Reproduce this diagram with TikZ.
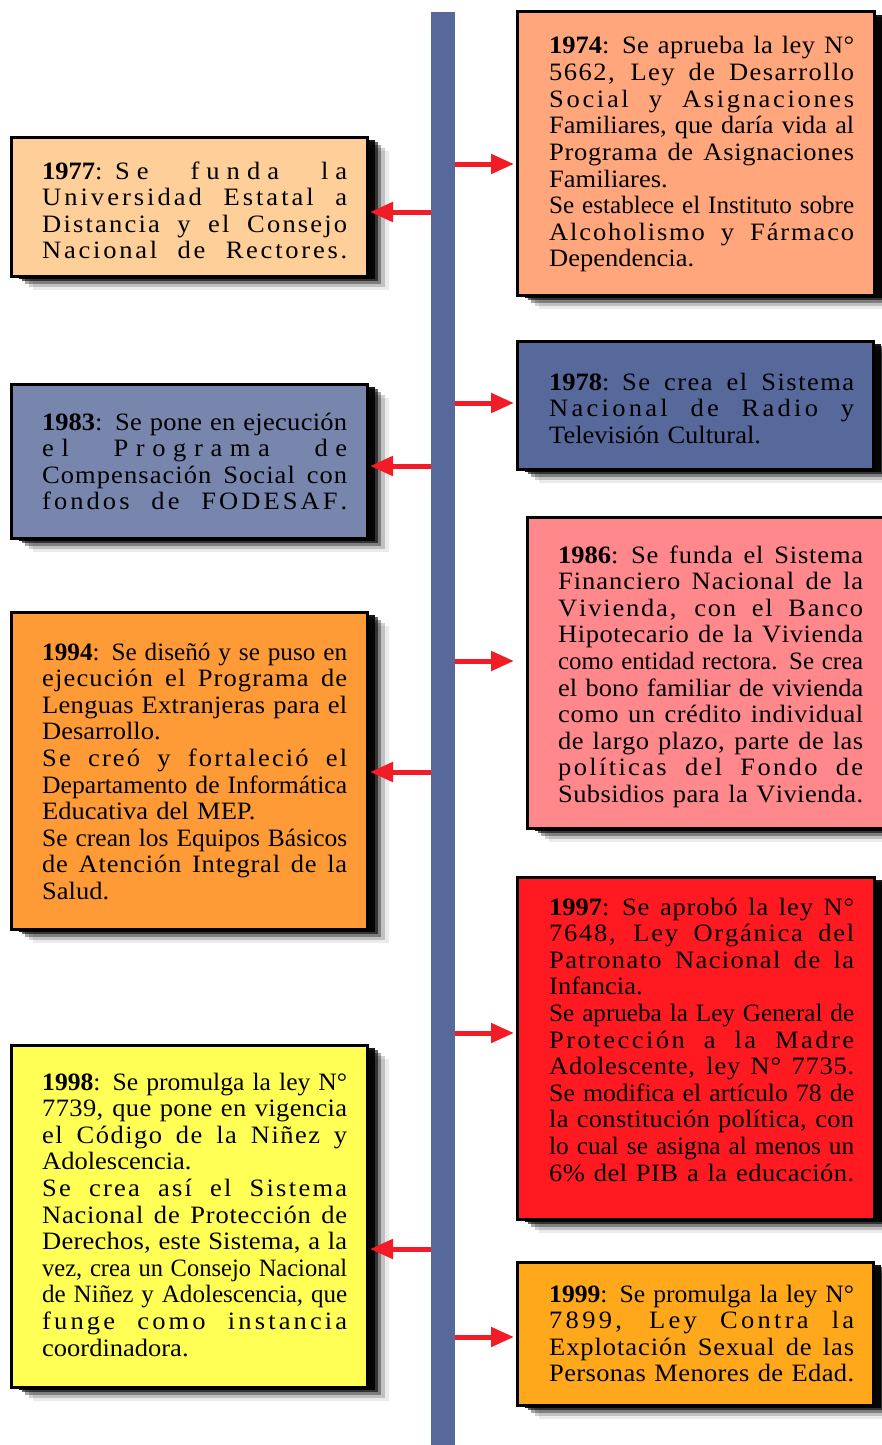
\documentclass[tikz,border=0pt]{standalone}
\usepackage{fontspec}
\setmainfont[FakeStretch=1.06]{Liberation Serif}
\usepackage{graphicx}
\usepackage{tikz}
\usetikzlibrary{arrows.meta, shadows}

\definecolor{azullinea}{HTML}{57689A}
\definecolor{rojoflecha}{HTML}{F21C26}
\definecolor{c1974}{HTML}{FFA67D}
\definecolor{c1977}{HTML}{FECF98}
\definecolor{c1978}{HTML}{57689A}
\definecolor{c1983}{HTML}{7886AE}
\definecolor{c1986}{HTML}{FF888C}
\definecolor{c1994}{HTML}{FF9B37}
\definecolor{c1997}{HTML}{FF1A22}
\definecolor{c1998}{HTML}{FFFF55}
\definecolor{c1999}{HTML}{FFA81C}

% justified lines, spread letter by letter
\newdimen\anchotexto \anchotexto=305pt
\newcount\cc
\cc=33
\loop\XeTeXcharclass\cc=7 \advance\cc by 1 \ifnum\cc<256 \repeat
\XeTeXinterchartoks 7 7 = {\hskip 0pt plus 1fil\relax}
\newcommand\jl[1]{\leavevmode{\setbox0=\hbox{#1}%
  \ifdim\wd0>\anchotexto \resizebox{\anchotexto}{\height}{#1}%
  \else\hbox to \anchotexto{\XeTeXinterchartokenstate=1 \spaceskip=6.6pt plus 5fil minus 2pt\relax #1}\fi}}
\newcommand\anio[1]{{\XeTeXinterchartokenstate=0 \textbf{#1}}}
\newcommand\evfont{\fontsize{25pt}{26.6pt}\selectfont\parindent=0pt}

\tikzset{
	barra/.style={fill=azullinea, anchor=north, minimum width=24pt, minimum height=1440pt, inner sep=0pt, outer sep=0pt},
	sombra/.style={
		general shadow={shadow xshift=22pt, shadow yshift=-14pt, fill=black, opacity=.08},
		general shadow={shadow xshift=18pt, shadow yshift=-11pt, fill=black, opacity=.18},
		general shadow={shadow xshift=14pt, shadow yshift=-8pt, fill=black, opacity=.35},
		general shadow={shadow xshift=11pt, shadow yshift=-5pt, fill=black, opacity=.6},
		general shadow={shadow xshift=8pt, shadow yshift=-3pt, fill=black, opacity=.9}},
	flecha/.style={draw=rojoflecha, line width=5pt, -{Triangle[length=23pt, width=19pt]}, shorten >=3pt},
}

\begin{document}
\begin{tikzpicture}[
		x=1pt, y=-1pt,
		evento/.style={draw, line width=3pt, fill=#1, anchor=north west, inner sep=0pt, outer sep=0pt, sombra},
		texto/.style={anchor=base west, text width=\anchotexto, inner sep=0pt, align=left, font=\evfont}
	]
	\useasboundingbox (0,0) rectangle (881,1445);

	% timeline
	\node[barra] (linea) at (443,12) {};

	% right column
	\node[evento=c1974, minimum width=357pt, minimum height=283pt] (b1974) at (517,12) {};
	\node[texto] (t1974) at (549,54) {\jl{\anio{1974}: Se aprueba la ley N°}\\
		\jl{5662, Ley de Desarrollo}\\
		\jl{Social y Asignaciones}\\
		\jl{Familiares, que daría vida al}\\
		\jl{Programa de Asignaciones}\\
		Familiares.\\
		\jl{Se establece el Instituto sobre}\\
		\jl{Alcoholismo y Fármaco}\\
		Dependencia.};

	\node[evento=c1978, minimum width=356pt, minimum height=128pt] (b1978) at (517,341) {};
	\node[texto] (t1978) at (549,390) {\jl{\anio{1978}: Se crea el Sistema}\\
		\jl{Nacional de Radio y}\\
		Televisión Cultural.};

	\node[evento=c1986, minimum width=370pt, minimum height=311pt] (b1986) at (527,517) {};
	\node[texto] (t1986) at (558,563) {\jl{\anio{1986}: Se funda el Sistema}\\
		\jl{Financiero Nacional de la}\\
		\jl{Vivienda, con el Banco}\\
		\jl{Hipotecario de la Vivienda}\\
		\jl{como entidad rectora. Se crea}\\
		\jl{el bono familiar de vivienda}\\
		\jl{como un crédito individual}\\
		\jl{de largo plazo, parte de las}\\
		\jl{políticas del Fondo de}\\
		\jl{Subsidios para la Vivienda.}};

	\node[evento=c1997, minimum width=357pt, minimum height=342pt] (b1997) at (517,877) {};
	\node[texto] (t1997) at (549,915) {\jl{\anio{1997}: Se aprobó la ley N°}\\
		\jl{7648, Ley Orgánica del}\\
		\jl{Patronato Nacional de la}\\
		Infancia.\\
		\jl{Se aprueba la Ley General de}\\
		\jl{Protección a la Madre}\\
		\jl{Adolescente, ley N° 7735.}\\
		\jl{Se modifica el artículo 78 de}\\
		\jl{la constitución política, con}\\
		\jl{lo cual se asigna al menos un}\\
		\jl{6\% del PIB a la educación.}};

	\node[evento=c1999, minimum width=356pt, minimum height=143pt] (b1999) at (517,1262) {};
	\node[texto] (t1999) at (549,1302) {\jl{\anio{1999}: Se promulga la ley N°}\\
		\jl{7899, Ley Contra la}\\
		\jl{Explotación Sexual de las}\\
		\jl{Personas Menores de Edad.}};

	% left column
	\node[evento=c1977, minimum width=356pt, minimum height=139pt] (b1977) at (11,137) {};
	\node[texto] (t1977) at (42,179) {\jl{\anio{1977}: Se funda la}\\
		\jl{Universidad Estatal a}\\
		\jl{Distancia y el Consejo}\\
		\jl{Nacional de Rectores.}};

	\node[evento=c1983, minimum width=356pt, minimum height=154pt] (b1983) at (11,384) {};
	\node[texto] (t1983) at (42,430) {\jl{\anio{1983}: Se pone en ejecución}\\
		\jl{el Programa de}\\
		\jl{Compensación Social con}\\
		\jl{fondos de FODESAF.}};

	\node[evento=c1994, minimum width=356pt, minimum height=317pt] (b1994) at (11,612) {};
	\node[texto] (t1994) at (42,660) {\jl{\anio{1994}: Se diseñó y se puso en}\\
		\jl{ejecución el Programa de}\\
		\jl{Lenguas Extranjeras para el}\\
		Desarrollo.\\
		\jl{Se creó y fortaleció el}\\
		\jl{Departamento de Informática}\\
		Educativa del MEP.\\
		\jl{Se crean los Equipos Básicos}\\
		\jl{de Atención Integral de la}\\
		Salud.};

	\node[evento=c1998, minimum width=356pt, minimum height=342pt] (b1998) at (11,1045) {};
	\node[texto] (t1998) at (42,1090) {\jl{\anio{1998}: Se promulga la ley N°}\\
		\jl{7739, que pone en vigencia}\\
		\jl{el Código de la Niñez y}\\
		Adolescencia.\\
		\jl{Se crea así el Sistema}\\
		\jl{Nacional de Protección de}\\
		\jl{Derechos, este Sistema, a la}\\
		\jl{vez, crea un Consejo Nacional}\\
		\jl{de Niñez y Adolescencia, que}\\
		\jl{funge como instancia}\\
		coordinadora.};

	% arrows
	\coordinate (a1974) at (0,164);
	\coordinate (a1977) at (0,212);
	\coordinate (a1978) at (0,403);
	\coordinate (a1983) at (0,466);
	\coordinate (a1986) at (0,661);
	\coordinate (a1994) at (0,772);
	\coordinate (a1997) at (0,1033);
	\coordinate (a1998) at (0,1249);
	\coordinate (a1999) at (0,1337);
	\foreach \y in {1974,1978,1997,1999}
		\draw[flecha] (linea.east |- a\y) -- (b\y.west |- a\y);
	\draw[flecha, shorten >=13pt] (linea.east |- a1986) -- (b1986.west |- a1986);
	\foreach \y in {1977,1983,1994,1998}
		\draw[flecha] (linea.west |- a\y) -- (b\y.east |- a\y);
\end{tikzpicture}
\end{document}
